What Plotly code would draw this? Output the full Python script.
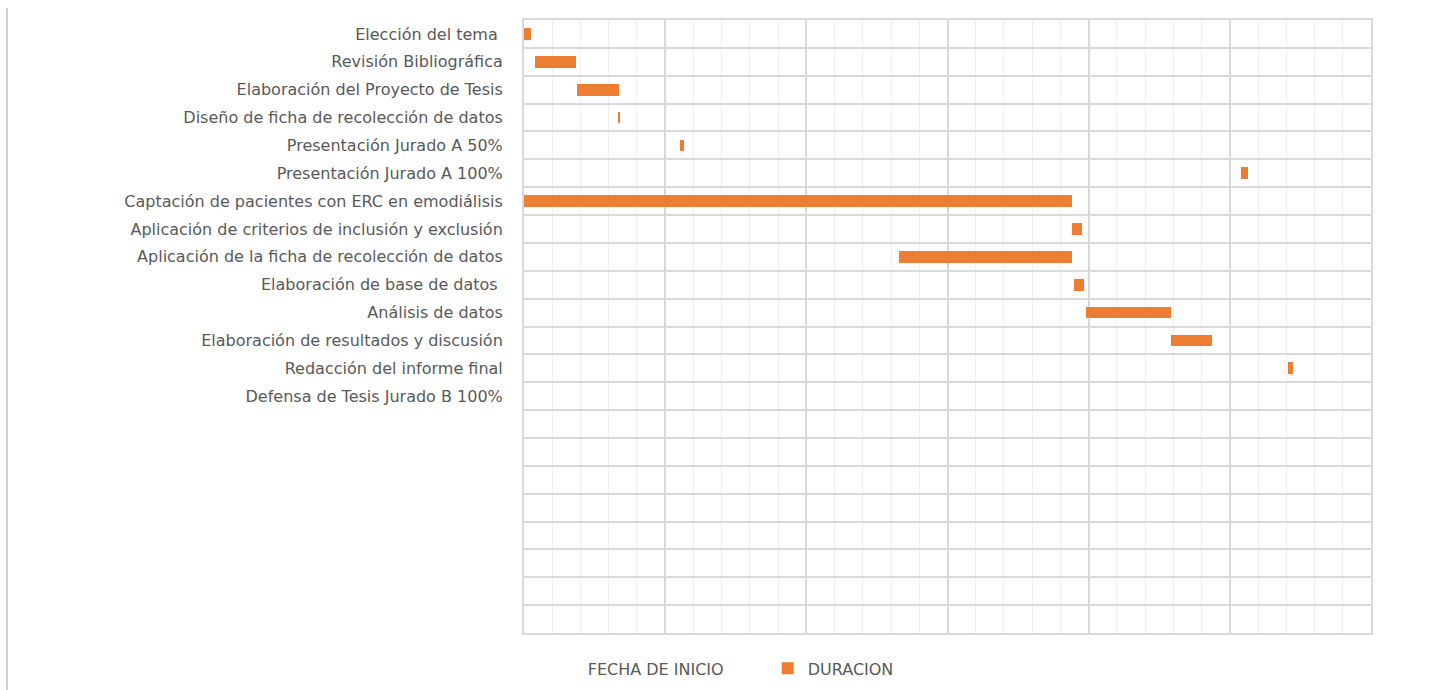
import plotly.graph_objects as go

# Tareas del cronograma (orden de arriba hacia abajo)
tasks = [
    "Elección del tema ",
    "Revisión Bibliográfica",
    "Elaboración del Proyecto de Tesis",
    "Diseño de ficha de recolección de datos",
    "Presentación Jurado A 50%",
    "Presentación Jurado A 100%",
    "Captación de pacientes con ERC en emodiálisis",
    "Aplicación de criterios de inclusión y exclusión",
    "Aplicación de la ficha de recolección de datos",
    "Elaboración de base de datos ",
    "Análisis de datos",
    "Elaboración de resultados y discusión",
    "Redacción del informe final",
    "Defensa de Tesis Jurado B 100%",
]
# filas vacías al final de la tabla
n_rows = 22

# días desde el inicio del cronograma
fecha_inicio = [0, 2.3, 11.3, 20.0, 33.1, 152.4, 0, 116.4, 79.7, 116.9, 119.4, 137.6, 162.3, None]
duracion = [1.4, 8.7, 8.9, 0.3, 0.8, 1.5, 116.4, 2.2, 36.7, 2.1, 18.2, 8.7, 1.2, None]

rows = list(range(len(tasks)))

ORANGE = "#ED7D31"
TEXT = "#595959"
GRID = "#d9d9d9"
FONT = "DejaVu Sans"

fig = go.Figure()
fig.add_trace(go.Bar(
    name="FECHA DE INICIO", y=rows, x=fecha_inicio, orientation="h",
    marker=dict(color="rgba(0,0,0,0)", line=dict(width=0)),
    showlegend=True,
))
fig.add_trace(go.Bar(
    name="DURACION", y=rows, x=duracion, orientation="h",
    marker=dict(color=ORANGE, line=dict(width=0)),
))

fig.update_layout(
    width=1451, height=690,
    barmode="stack", bargap=0.58,
    plot_bgcolor="white", paper_bgcolor="white",
    margin=dict(l=524, r=80, t=20, b=57, autoexpand=False),
    font=dict(family=FONT, color=TEXT, size=14),
    legend=dict(
        orientation="h", x=0.028, xanchor="left", y=-0.030, yanchor="top",
        font=dict(family=FONT, size=16, color=TEXT),
        itemwidth=30, traceorder="normal", entrywidth=175,
    ),
    showlegend=True,
)

fig.update_xaxes(
    range=[0, 180], dtick=30, tick0=0,
    showticklabels=False, ticks="",
    showgrid=True, gridcolor=GRID, gridwidth=2,
    minor=dict(dtick=6, tick0=0, showgrid=True, gridcolor="#efefef", gridwidth=1),
    zeroline=False, showline=True, mirror=True, linecolor=GRID, linewidth=2,
)

fig.update_yaxes(
    range=[n_rows - 0.5, -0.5],
    tickmode="array", tickvals=rows, ticktext=tasks,
    ticks="", ticklabelstandoff=16,
    tickfont=dict(family=FONT, size=16, color=TEXT),
    showgrid=False,
    minor=dict(tickmode="array", tickvals=[i - 0.5 for i in range(n_rows + 1)],
               showgrid=True, gridcolor=GRID, gridwidth=1.5, ticks=""),
    zeroline=False, showline=True, mirror=True, linecolor=GRID, linewidth=2,
)

# línea vertical del borde izquierdo del área del gráfico
fig.add_shape(
    type="line", xref="paper", yref="paper",
    x0=(7 - 524) / 847, x1=(7 - 524) / 847, y0=(633 - 8) / 613, y1=-0.1,
    line=dict(color="#d0d0d0", width=2),
)

fig.write_html("out.html")
